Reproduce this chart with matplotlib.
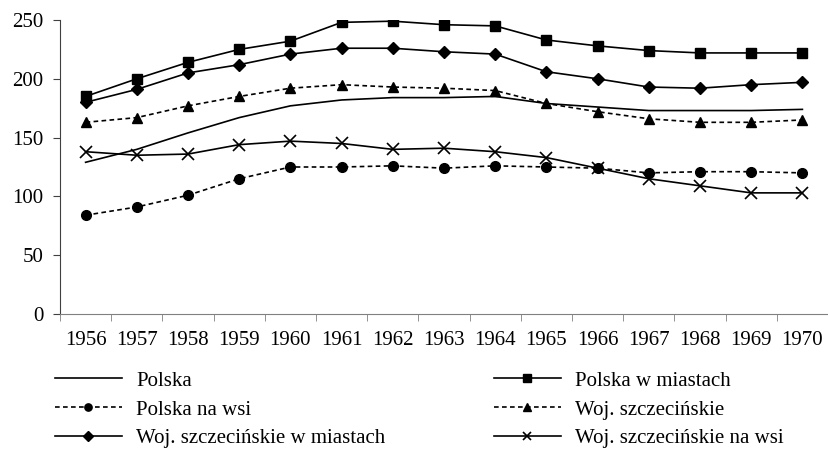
import matplotlib
matplotlib.use("Agg")
import matplotlib.pyplot as plt
import numpy as np

years = [str(y) for y in range(1956, 1971)]
polska = [129, 140, 154, 167, 177, 182, 184, 184, 185, 179, 176, 173, 173, 173, 174]
polska_miasta = [185, 200, 214, 225, 232, 248, 249, 246, 245, 233, 228, 224, 222, 222, 222]
polska_wies = [84, 91, 101, 115, 125, 125, 126, 124, 126, 125, 124, 120, 121, 121, 120]
woj = [163, 167, 177, 185, 192, 195, 193, 192, 190, 179, 172, 166, 163, 163, 165]
woj_miasta = [180, 191, 205, 212, 221, 226, 226, 223, 221, 206, 200, 193, 192, 195, 197]
woj_wies = [138, 135, 136, 144, 147, 145, 140, 141, 138, 133, 124, 115, 109, 103, 103]

plt.rcParams['font.family'] = ['Liberation Serif', 'DejaVu Serif']
plt.rcParams['font.size'] = 15

W, H = 829, 451
fig = plt.figure(figsize=(W/100, H/100), dpi=100)
ax = fig.add_axes([60/W, 1-314/H, 768/W, 294/H])

x = np.arange(len(years))
dash = (0, (2.8, 2))
lw = 1.2
l1, = ax.plot(x, polska, color='black', lw=lw, label='Polska')
l2, = ax.plot(x, polska_miasta, color='black', lw=lw, marker='s', ms=7, label='Polska w miastach')
l3, = ax.plot(x, polska_wies, color='black', lw=lw, ls=dash, marker='o', ms=7, label='Polska na wsi')
l4, = ax.plot(x, woj, color='black', lw=lw, ls=dash, marker='^', ms=7.5, label='Woj. szczecińskie')
l5, = ax.plot(x, woj_miasta, color='black', lw=lw, marker='D', ms=6.5, label='Woj. szczecińskie w miastach')
l6, = ax.plot(x, woj_wies, color='black', lw=lw, marker='x', ms=8, mew=1.2, label='Woj. szczecińskie na wsi')

ax.set_xlim(-0.5, len(years) - 0.5)
ax.set_ylim(0, 250)
ax.set_yticks([0, 50, 100, 150, 200, 250])
ax.set_xticks(x)
ax.set_xticklabels(years)
ax.set_xticks(np.arange(-0.5, len(years), 1), minor=True)
ax.tick_params(axis='x', which='major', length=0, pad=12)
ax.tick_params(axis='x', which='minor', length=5, direction='out', color='#808080')
ax.tick_params(axis='y', length=5, direction='out', color='#404040', pad=7)
for s in ['top', 'right']:
    ax.spines[s].set_visible(False)
ax.spines['left'].set_color('#404040')
ax.spines['bottom'].set_color('#808080')

common = dict(loc='upper left', frameon=False, handlelength=3.2, borderpad=0,
              labelspacing=0.45, handletextpad=0.7, numpoints=1, markerscale=0.75,
              borderaxespad=0)
col1 = [l1, l3, l5]
col2 = [l2, l4, l6]
leg1 = fig.legend(col1, [h.get_label() for h in col1], bbox_to_anchor=(55/W, 1-371/H), **common)
leg2 = fig.legend(col2, [h.get_label() for h in col2], bbox_to_anchor=(494/W, 1-371/H), **common)

fig.savefig('out.png', dpi=100)
